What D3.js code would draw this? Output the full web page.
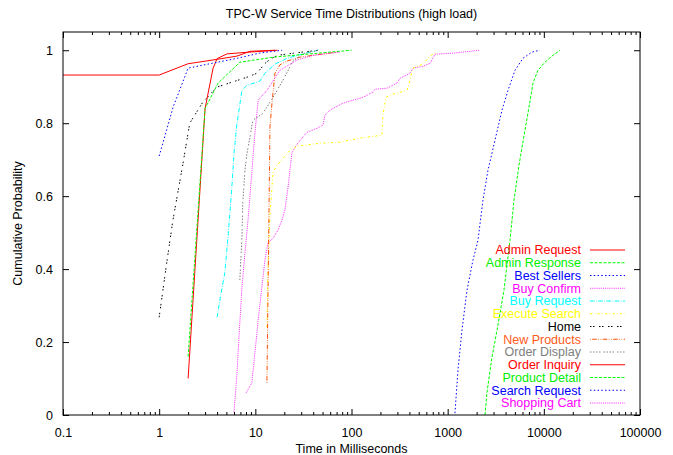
<!DOCTYPE html>
<html>
<head>
<meta charset="utf-8">
<script src="https://cdn.jsdelivr.net/npm/d3@7"></script>
<style>
  html, body { margin: 0; padding: 0; background: #fff; }
  svg { display: block; }
  text { font-family: "Liberation Sans", Arial, Helvetica, sans-serif; }
</style>
</head>
<body>
<svg id="chart" width="673" height="455"></svg>
<script>
// Service time CDFs per TPC-W interaction: [milliseconds, cumulative probability]
const adminRequest = [[0.1,0.932],[1,0.932],[2,0.963],[4,0.975],[6.45,0.984],[8.8,0.997],[16,1.0]];
const adminResponse = [[2445,0.0],[2565,0.063],[2891,0.159],[3337,0.247],[3851,0.342],[4446,0.479],[4895,0.589],[5518,0.685],[6370,0.781],[7010,0.844],[7718,0.91],[8690,0.945],[10270,0.967],[12150,0.984],[14720,1.0]];
const bestSellers = [[1191,0.005],[1280,0.123],[1409,0.233],[1588,0.342],[1834,0.425],[2066,0.479],[2328,0.589],[2624,0.671],[3104,0.753],[3672,0.836],[4240,0.89],[5013,0.945],[6067,0.978],[7531,0.995],[9120,1.0]];
const buyConfirm = [[8.0,0.06],[9.2,0.088],[9.9,0.17],[10.7,0.26],[11.7,0.351],[12.6,0.425],[13.5,0.471],[15.3,0.485],[17.2,0.507],[18.9,0.534],[20.3,0.562],[21.9,0.625],[22.9,0.671],[24.0,0.718],[25.8,0.734],[29.1,0.753],[34.4,0.775],[43.8,0.786],[50.5,0.795],[53.0,0.822],[59.7,0.836],[81.6,0.855],[103.6,0.863],[131.5,0.871],[167,0.885],[175,0.893],[234,0.896],[297,0.91],[319,0.923],[405,0.937],[435,0.951],[553,0.956],[655,0.964],[738,0.989],[1135,0.992],[2168,1.0]];
const buyRequest = [[4,0.268],[4.28,0.315],[4.81,0.389],[5.2,0.488],[5.7,0.625],[6,0.718],[6.45,0.8],[7.26,0.89],[8.2,0.904],[11.1,0.915],[12.6,0.937],[16,0.962],[21,0.977],[31,0.99],[45,1.0]];
const executeSearch = [[13.2,0.241],[13.5,0.389],[14.2,0.548],[15.3,0.666],[16.8,0.685],[18.9,0.699],[21.9,0.721],[27.1,0.737],[47,0.745],[76,0.748],[122,0.759],[207,0.767],[212,0.822],[228,0.871],[264,0.879],[378,0.89],[405,0.918],[435,0.951],[553,0.962],[655,0.984],[775,0.995]];
const home = [[1,0.268],[1.21,0.425],[1.39,0.534],[1.77,0.69],[2.08,0.8],[2.85,0.858],[4,0.899],[8.2,0.926],[10.4,0.937],[12.6,0.964],[14.2,0.975],[17,0.986],[25,0.992],[45,1.0]];
const newProducts = [[13.2,0.088],[14.2,0.79],[14.9,0.855],[16,0.937],[18,0.96],[21.2,0.97],[29,0.981],[70,0.995]];
const orderDisplay = [[6.9,0.37],[7.26,0.488],[7.4,0.58],[7.8,0.671],[8.2,0.718],[8.8,0.762],[9.4,0.808],[12,0.827],[15.3,0.871],[19.4,0.918],[24.6,0.97],[31,0.99],[45,1.0]];
const orderInquiry = [[2,0.1],[3,0.84],[3.63,0.95],[4,0.977],[5.07,0.99],[8.8,0.995],[17,1.0]];
const productDetail = [[2,0.16],[3,0.84],[4.1,0.91],[6.9,0.967],[15.3,0.981],[37,0.99],[100,1.0]];
const searchRequest = [[1,0.71],[1.4,0.845],[2,0.951],[4,0.967],[6.5,0.978],[11,0.992],[19,1.0]];
const shoppingCart = [[6,0.008],[6.45,0.115],[6.76,0.214],[7.26,0.351],[7.8,0.444],[8.39,0.534],[9.23,0.671],[9.9,0.773],[10.7,0.863],[13.2,0.89],[18,0.945],[27.1,0.973],[39.8,0.986],[76,0.995]];

const seriesNames = ["Admin Request","Admin Response","Best Sellers","Buy Confirm","Buy Request","Execute Search","Home","New Products","Order Display","Order Inquiry","Product Detail","Search Request","Shopping Cart"];
const seriesData = [adminRequest, adminResponse, bestSellers, buyConfirm, buyRequest, executeSearch, home, newProducts, orderDisplay, orderInquiry, productDetail, searchRequest, shoppingCart];

const xTickValues = [0.1, 1, 10, 100, 1000, 10000, 100000];
const xTickLabels = ["0.1", "1", "10", "100", "1000", "10000", "100000"];
const yTickValues = [0, 0.2, 0.4, 0.6, 0.8, 1];
const yTickLabels = ["0", "0.2", "0.4", "0.6", "0.8", "1"];

// gnuplot-like line types, cycling through nine colour/dash combinations
const ltColors = ["#ff0000", "#00ff00", "#0000ff", "#ff00ff", "#00ffff", "#ffff00", "#000000", "#ff4d00", "#808080"];
const ltDash = [[], [4, 2], [2, 3], [1, 1.5], [6, 2, 1, 2], [3, 3, 1, 3], [2, 2, 2, 6], [1, 2, 6, 2, 1, 2], [2, 2, 2, 2, 2, 2, 2, 4]];
const dashScale = 0.75;
const textColors = ["#ff0000", "#00ee00", "#0000ff", "#ff00ff", "#00ffff", "#ffff00", "#000000", "#ff5a1a", "#808080"];

const plotLeft = 63, plotRight = 640, plotTop = 32, plotBottom = 415;
const fontSize = 12.5;

const svg = d3.select("#chart");
const x = d3.scaleLog().domain([0.1, 100000]).range([plotLeft, plotRight]);
const y = d3.scaleLinear().domain([0, 1.05]).range([plotBottom, plotTop]);

// Title
svg.append("text")
  .attr("x", (plotLeft + plotRight) / 2).attr("y", 18)
  .attr("text-anchor", "middle").attr("font-size", fontSize)
  .text("TPC-W Service Time Distributions (high load)");

function styleAxis(g) {
  g.attr("font-family", null).attr("font-size", null);
  g.select(".domain").remove();
  g.selectAll(".tick line").attr("stroke", "#000").attr("stroke-width", 1);
  g.selectAll(".tick text").attr("font-size", fontSize).attr("fill", "#000");
}

const minorX = x.ticks().filter(v => !xTickValues.some(t => Math.abs(Math.log10(v) - Math.log10(t)) < 1e-9));

// Bottom axis: major ticks with labels, minor ticks inward
svg.append("g").attr("transform", `translate(0,${plotBottom})`)
  .call(d3.axisBottom(x).tickValues(xTickValues).tickFormat((d, i) => xTickLabels[i])
    .tickSizeInner(-6).tickSizeOuter(0).tickPadding(13))
  .call(styleAxis);
svg.append("g").attr("transform", `translate(0,${plotBottom})`)
  .call(d3.axisBottom(x).tickValues(minorX).tickFormat("").tickSizeInner(-3).tickSizeOuter(0))
  .call(styleAxis);
// Top mirror ticks
svg.append("g").attr("transform", `translate(0,${plotTop})`)
  .call(d3.axisTop(x).tickValues(xTickValues).tickFormat("").tickSizeInner(-6).tickSizeOuter(0))
  .call(styleAxis);
svg.append("g").attr("transform", `translate(0,${plotTop})`)
  .call(d3.axisTop(x).tickValues(minorX).tickFormat("").tickSizeInner(-3).tickSizeOuter(0))
  .call(styleAxis);
// Left axis with labels, right mirror ticks
svg.append("g").attr("transform", `translate(${plotLeft},0)`)
  .call(d3.axisLeft(y).tickValues(yTickValues).tickFormat((d, i) => yTickLabels[i])
    .tickSizeInner(-6).tickSizeOuter(0).tickPadding(10))
  .call(styleAxis);
svg.append("g").attr("transform", `translate(${plotRight},0)`)
  .call(d3.axisRight(y).tickValues(yTickValues).tickFormat("").tickSizeInner(-6).tickSizeOuter(0))
  .call(styleAxis);

// Axis titles
svg.append("text")
  .attr("x", (plotLeft + plotRight) / 2).attr("y", 453)
  .attr("text-anchor", "middle").attr("font-size", fontSize)
  .text("Time in Milliseconds");
svg.append("text")
  .attr("transform", `translate(22,${(plotTop + plotBottom) / 2}) rotate(-90)`)
  .attr("text-anchor", "middle").attr("font-size", fontSize)
  .text("Cumulative Probability");

// Curves
const line = d3.line().x(d => x(d[0])).y(d => y(d[1]));
const plot = svg.append("g");
seriesData.forEach((data, i) => {
  const lt = i % ltColors.length;
  plot.append("path")
    .datum(data)
    .attr("d", line)
    .attr("fill", "none")
    .attr("stroke", ltColors[lt])
    .attr("stroke-width", 1)
    .attr("stroke-dasharray", ltDash[lt].length ? ltDash[lt].map(v => v * dashScale).join(",") : null);
});

// Key
const keyTextX = 581, keyLineX0 = 590, keyLineX1 = 625, keyY0 = 250, keyStep = 12.75;
const key = svg.append("g");
seriesNames.forEach((name, i) => {
  const lt = i % ltColors.length;
  const ky = keyY0 + i * keyStep;
  key.append("text")
    .attr("x", keyTextX).attr("y", ky).attr("dy", "0.35em")
    .attr("text-anchor", "end").attr("font-size", fontSize)
    .attr("fill", textColors[lt])
    .text(name);
  key.append("line")
    .attr("x1", keyLineX0).attr("x2", keyLineX1).attr("y1", ky).attr("y2", ky)
    .attr("stroke", ltColors[lt]).attr("stroke-width", 1)
    .attr("stroke-dasharray", ltDash[lt].length ? ltDash[lt].map(v => v * dashScale).join(",") : null);
});

// Frame
svg.append("rect")
  .attr("x", plotLeft).attr("y", plotTop).attr("width", plotRight - plotLeft).attr("height", plotBottom - plotTop)
  .attr("fill", "none").attr("stroke", "#000").attr("stroke-width", 1);
</script>
</body>
</html>
